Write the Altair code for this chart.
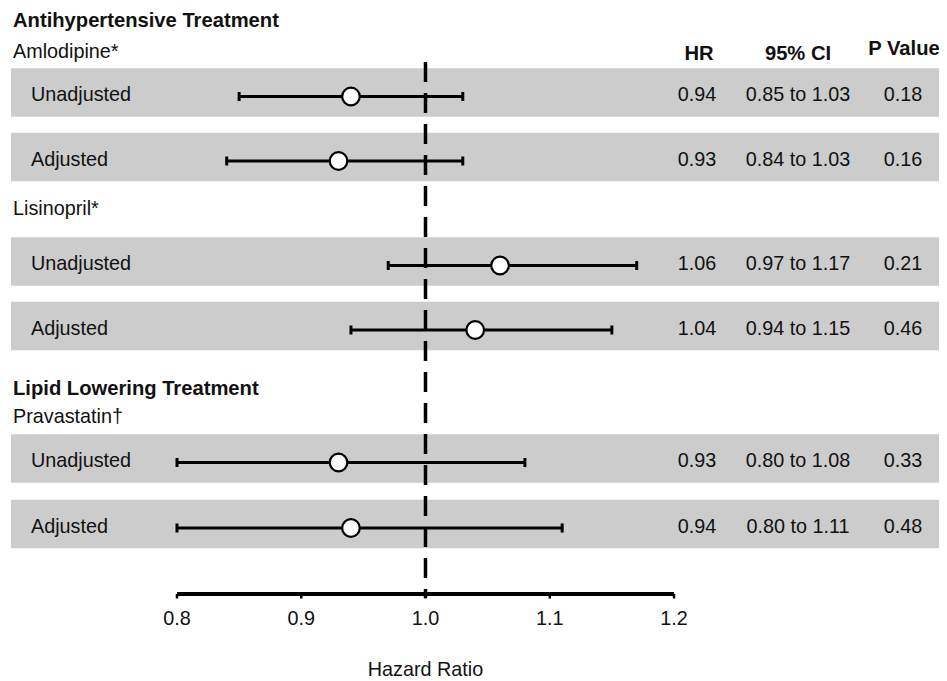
import altair as alt
import pandas as pd

# ---------------- data ----------------
sections = ["Antihypertensive Treatment", "Lipid Lowering Treatment"]
drugs = ["Amlodipine*", "Lisinopril*", "Pravastatin\u2020"]
row_labels = ["Unadjusted", "Adjusted", "Unadjusted", "Adjusted", "Unadjusted", "Adjusted"]
hr = [0.94, 0.93, 1.06, 1.04, 0.93, 0.94]
ci_low = [0.85, 0.84, 0.97, 0.94, 0.80, 0.80]
ci_high = [1.03, 1.03, 1.17, 1.15, 1.08, 1.11]
p_values = ["0.18", "0.16", "0.21", "0.46", "0.33", "0.48"]
column_headers = ["HR", "95% CI", "P Value"]
tick_values = [0.8, 0.9, 1.0, 1.1, 1.2]
tick_labels = ["0.8", "0.9", "1.0", "1.1", "1.2"]
x_title = "Hazard Ratio"
reference_value = 1.0

# ---------------- layout (plot-area pixels) ----------------
W, H = 931, 673
FONT = "Liberation Sans"
FS = 19.8
FSB = 20.2
row_y = [84.5, 149, 253.5, 318, 450.5, 516]
section_y = [18.7, 387]
drug_y = [50.3, 207, 415]
header_x = [691, 790, 896]
header_y = [52, 52, 47]
value_x = [689, 790, 895]
ref_top, ref_bottom = 54, 590
axis_y = 586
tick_len = 4.5
tick_label_y = 617
title_y = 668
px_per_unit = 1242.5
x_lo = tick_values[0] - 169 / px_per_unit
x_hi = x_lo + W / px_per_unit

xs = alt.Scale(domain=[x_lo, x_hi], range=[0, W], nice=False, zero=False)
ys = alt.Scale(domain=[0, H], range=[0, H], nice=False, zero=False)

rows = pd.DataFrame({
    "label": row_labels,
    "hr": hr,
    "lo": ci_low,
    "hi": ci_high,
    "hr_text": [f"{v:.2f}" for v in hr],
    "ci_text": [f"{a:.2f} to {b:.2f}" for a, b in zip(ci_low, ci_high)],
    "p": p_values,
    "y": row_y,
})

Y = alt.Y("y:Q", scale=ys, axis=None)

bands = alt.Chart(rows).mark_rule(strokeWidth=48.5, color="#cccccc", strokeCap="butt").encode(
    y=Y, x=alt.value(3), x2=alt.value(W + 10)
)

ref_df = pd.DataFrame({"x": [reference_value], "y": [ref_top], "y2": [ref_bottom]})
ref_line = alt.Chart(ref_df).mark_rule(
    color="black", strokeWidth=3.5, strokeDash=[20, 11], strokeCap="butt"
).encode(
    x=alt.X("x:Q", scale=xs, axis=None), y=alt.Y("y:Q", scale=ys, axis=None), y2="y2:Q"
)

err = alt.Chart(rows).mark_rule(color="black", strokeWidth=3, yOffset=4).encode(
    x=alt.X("lo:Q", scale=xs, axis=None), x2="hi:Q", y=Y
)

caps = alt.Chart(rows).transform_fold(["lo", "hi"], as_=["end", "xv"]).mark_point(
    shape="M0,-1L0,1", size=81, strokeWidth=3, color="black", filled=False, opacity=1, yOffset=4
).encode(x=alt.X("xv:Q", scale=xs, axis=None), y=Y)

points = alt.Chart(rows).mark_point(
    shape="circle", size=310, filled=True, fill="white", stroke="black",
    strokeWidth=2.2, opacity=1, yOffset=4
).encode(x=alt.X("hr:Q", scale=xs, axis=None), y=Y)


def txt(df, field, x, align="left", bold=False, dy=0.0):
    return alt.Chart(df).mark_text(
        font=FONT, fontSize=FSB if bold else FS, align=align, baseline="alphabetic",
        fontWeight="bold" if bold else "normal", color="#111111", dy=dy
    ).encode(x=x, y=Y, text=f"{field}:N")


row_text = txt(rows, "label", alt.value(23), dy=8.5)
hr_text = txt(rows, "hr_text", alt.value(value_x[0]), align="center", dy=8.5)
ci_text = txt(rows, "ci_text", alt.value(value_x[1]), align="center", dy=8.5)
p_text = txt(rows, "p", alt.value(value_x[2]), align="center", dy=8.5)

sec_df = pd.DataFrame({"t": sections, "y": section_y})
drug_df = pd.DataFrame({"t": drugs, "y": drug_y})
sec_text = txt(sec_df, "t", alt.value(5), bold=True)
drug_text = txt(drug_df, "t", alt.value(5))

hdr_layers = []
for t, hx, hy in zip(column_headers, header_x, header_y):
    d = pd.DataFrame({"t": [t], "y": [hy]})
    hdr_layers.append(txt(d, "t", alt.value(hx), align="center", bold=True))

axis_df = pd.DataFrame({"x": [tick_values[0]], "x2": [tick_values[-1]], "y": [axis_y]})
axis_line = alt.Chart(axis_df).mark_rule(color="black", strokeWidth=4, strokeCap="butt").encode(
    x=alt.X("x:Q", scale=xs, axis=None), x2="x2:Q", y=alt.Y("y:Q", scale=ys, axis=None)
)
ticks_df = pd.DataFrame({"v": tick_values, "lab": tick_labels,
                         "y": [axis_y] * len(tick_values), "y2": [axis_y + tick_len] * len(tick_values)})
ticks = alt.Chart(ticks_df).mark_rule(color="black", strokeWidth=2.5, strokeCap="butt").encode(
    x=alt.X("v:Q", scale=xs, axis=None), y=alt.Y("y:Q", scale=ys, axis=None), y2="y2:Q"
)
tick_text = alt.Chart(ticks_df).mark_text(
    font=FONT, fontSize=FS, align="center", baseline="alphabetic", color="#111111"
).encode(x=alt.X("v:Q", scale=xs, axis=None), y=alt.value(tick_label_y), text="lab:N")

title_df = pd.DataFrame({"t": [x_title], "x": [reference_value]})
title_text = alt.Chart(title_df).mark_text(
    font=FONT, fontSize=FS, align="center", baseline="alphabetic", color="#111111"
).encode(x=alt.X("x:Q", scale=xs, axis=None), y=alt.value(title_y), text="t:N")

chart = alt.layer(
    bands, err, ref_line, caps, points,
    row_text, hr_text, ci_text, p_text, sec_text, drug_text, *hdr_layers,
    axis_line, ticks, tick_text, title_text
).properties(
    width=W, height=H, padding=0, background="white",
    autosize=alt.AutoSizeParams(type="none")
).configure_view(stroke=None)

chart.save("out.html", embed_options={"renderer": "svg", "actions": False})
